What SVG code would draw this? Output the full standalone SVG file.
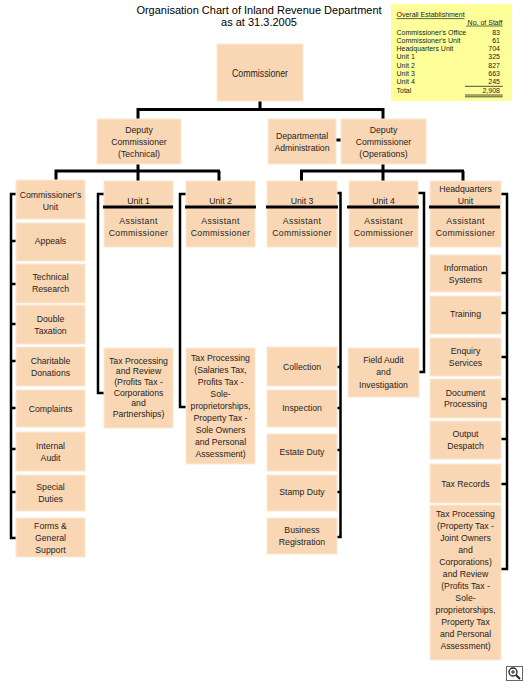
<svg xmlns="http://www.w3.org/2000/svg" width="525" height="682" viewBox="0 0 525 682">
<style>
.b{fill:#FAD7B4;stroke:#FDE7D3;stroke-width:1}
.t{font-family:"Liberation Sans",Arial,sans-serif;font-size:8.7px;fill:#1e1e1e;text-anchor:middle}
.ac{letter-spacing:0.35px}
.c{fill:none;stroke:#000;stroke-width:3;stroke-linecap:butt}
.k{fill:none;stroke:#000;stroke-width:2.5}
.d{stroke:#000;stroke-width:3}
.lg{font-family:"Liberation Sans",Arial,sans-serif;font-size:7px;fill:#222}
.ttl{font-family:"Liberation Sans",Arial,sans-serif;font-size:11px;fill:#000;text-anchor:middle}
</style>
<rect width="525" height="682" fill="#fff"/>
<g id="title">
<text class="ttl" x="259" y="14">Organisation Chart of Inland Revenue Department</text>
<text class="ttl" x="259" y="26">as at 31.3.2005</text>
</g>
<g id="legend">
<rect x="391" y="4" width="121" height="97" fill="#FFFF99"/>
<text class="lg" x="396.5" y="17">Overall Establishment</text>
<line x1="396.5" y1="18.6" x2="464.5" y2="18.6" stroke="#222" stroke-width="0.7"/>
<text class="lg" x="502.5" y="24.5" text-anchor="end">No. of Staff</text>
<line x1="466" y1="26" x2="502.7" y2="26" stroke="#222" stroke-width="0.7"/>
<g class="lg">
<text x="396.5" y="34.5">Commissioner's Office</text><text x="500" y="34.5" text-anchor="end">83</text>
<text x="396.5" y="42.8">Commissioner's Unit</text><text x="500" y="42.8" text-anchor="end">61</text>
<text x="396.5" y="51.1">Headquarters Unit</text><text x="500" y="51.1" text-anchor="end">704</text>
<text x="396.5" y="59.4">Unit 1</text><text x="500" y="59.4" text-anchor="end">325</text>
<text x="396.5" y="67.7">Unit 2</text><text x="500" y="67.7" text-anchor="end">827</text>
<text x="396.5" y="76">Unit 3</text><text x="500" y="76" text-anchor="end">663</text>
<text x="396.5" y="84.3">Unit 4</text><text x="500" y="84.3" text-anchor="end">245</text>
<text x="396.5" y="92.6">Total</text><text x="500" y="92.6" text-anchor="end">2,908</text>
</g>
<line x1="465" y1="86.3" x2="502.7" y2="86.3" stroke="#222" stroke-width="0.8"/>
<line x1="465" y1="95" x2="502.7" y2="95" stroke="#222" stroke-width="0.8"/>
<line x1="465" y1="96.8" x2="502.7" y2="96.8" stroke="#222" stroke-width="0.8"/>
</g>
<g id="connectors">
<path class="c" d="M260,101V109.5M138,119V109.5H383V119"/>
<path class="c" d="M336,140H341"/>
<path class="c" d="M138,164V171M56,180V171H220M138,171V181M219,171V181"/>
<path class="c" d="M383,164V171M301.5,181V171H464M383,171V181M463,171V181"/>
<path class="k" d="M16,194H11V538H16M11,241H16M11,284H16M11,324H16M11,361H16M11,408H16M11,449H16M11,492H16"/>
<path class="k" d="M104,194H98V393H104"/>
<path class="k" d="M186,194H180V407H186"/>
<path class="k" d="M337,193H340.5V537H337M340.5,367H337M340.5,408H337M340.5,450H337M340.5,492H337"/>
<path class="k" d="M418,193H424V372H419"/>
<path class="k" d="M501,194H507V569H501M507,273H501M507,313H501M507,357H501M507,399H501M507,439H501M507,484H501"/>
</g>
<g id="commissioner"><rect class="b" x="217" y="44" width="86" height="57"/><text class="t" x="260" y="76.5" style="font-size:11px" textLength="56" lengthAdjust="spacingAndGlyphs">Commissioner</text></g>
<g id="dc-technical"><rect class="b" x="97" y="119" width="84" height="45"/><text class="t" x="139" y="132.5">Deputy</text><text class="t" x="139" y="144.5">Commissioner</text><text class="t" x="139" y="156.5">(Technical)</text></g>
<g id="departmental-admin"><rect class="b" x="268" y="119" width="68" height="45"/><text class="t" x="302" y="139">Departmental</text><text class="t" x="302" y="151">Administration</text></g>
<g id="dc-operations"><rect class="b" x="341" y="119" width="85" height="45"/><text class="t" x="383.5" y="132.5">Deputy</text><text class="t" x="383.5" y="144.5">Commissioner</text><text class="t" x="383.5" y="156.5">(Operations)</text></g>
<g id="commissioners-unit"><rect class="b" x="16" y="180" width="69" height="39"/><text class="t" x="50.5" y="198">Commissioner's</text><text class="t" x="50.5" y="209.5">Unit</text></g>
<g id="appeals"><rect class="b" x="16" y="223" width="69" height="38"/><text class="t" x="50.5" y="244">Appeals</text></g>
<g id="technical-research"><rect class="b" x="16" y="264" width="69" height="39"/><text class="t" x="50.5" y="280">Technical</text><text class="t" x="50.5" y="292">Research</text></g>
<g id="double-taxation"><rect class="b" x="16" y="305" width="69" height="39"/><text class="t" x="50.5" y="322">Double</text><text class="t" x="50.5" y="334">Taxation</text></g>
<g id="charitable-donations"><rect class="b" x="16" y="347" width="69" height="39"/><text class="t" x="50.5" y="364">Charitable</text><text class="t" x="50.5" y="376">Donations</text></g>
<g id="complaints"><rect class="b" x="16" y="390" width="69" height="37"/><text class="t" x="50.5" y="411.5">Complaints</text></g>
<g id="internal-audit"><rect class="b" x="16" y="432" width="69" height="39"/><text class="t" x="50.5" y="448.5">Internal</text><text class="t" x="50.5" y="460.5">Audit</text></g>
<g id="special-duties"><rect class="b" x="16" y="475" width="69" height="36"/><text class="t" x="50.5" y="490">Special</text><text class="t" x="50.5" y="502">Duties</text></g>
<g id="forms-general-support"><rect class="b" x="16" y="518" width="69" height="39"/><text class="t" x="50.5" y="528.5">Forms &amp;</text><text class="t" x="50.5" y="540.5">General</text><text class="t" x="50.5" y="552.5">Support</text></g>
<g id="unit1"><rect class="b" x="104" y="181" width="69" height="66"/><line class="d" x1="103" y1="207" x2="173" y2="207"/><text class="t" x="138.5" y="203.5">Unit 1</text><text class="t ac" x="138.5" y="224">Assistant</text><text class="t ac" x="138.5" y="236">Commissioner</text></g>
<g id="unit1-tax-processing"><rect class="b" x="104" y="348" width="69" height="80"/><text class="t" x="138.5" y="363.5">Tax Processing</text><text class="t" x="138.5" y="374.2">and Review</text><text class="t" x="138.5" y="384.9">(Profits Tax -</text><text class="t" x="138.5" y="395.6">Corporations</text><text class="t" x="138.5" y="406.3">and</text><text class="t" x="138.5" y="417">Partnerships)</text></g>
<g id="unit2"><rect class="b" x="186" y="181" width="69" height="66"/><line class="d" x1="185" y1="207" x2="256" y2="207"/><text class="t" x="220.5" y="203.5">Unit 2</text><text class="t ac" x="220.5" y="224">Assistant</text><text class="t ac" x="220.5" y="236">Commissioner</text></g>
<g id="unit2-tax-processing"><rect class="b" x="186" y="348" width="69" height="116"/><text class="t" x="220.5" y="360.5">Tax Processing</text><text class="t" x="220.5" y="372.5">(Salaries Tax,</text><text class="t" x="220.5" y="384.5">Profits Tax -</text><text class="t" x="220.5" y="396.5">Sole-</text><text class="t" x="220.5" y="408.5">proprietorships,</text><text class="t" x="220.5" y="420.5">Property Tax -</text><text class="t" x="220.5" y="432.5">Sole Owners</text><text class="t" x="220.5" y="444.5">and Personal</text><text class="t" x="220.5" y="456.5">Assessment)</text></g>
<g id="unit3"><rect class="b" x="267" y="181" width="70" height="66"/><line class="d" x1="266" y1="207" x2="338" y2="207"/><text class="t" x="302" y="203.5">Unit 3</text><text class="t ac" x="302" y="224">Assistant</text><text class="t ac" x="302" y="236">Commissioner</text></g>
<g id="collection"><rect class="b" x="267" y="347" width="70" height="39"/><text class="t" x="302" y="370">Collection</text></g>
<g id="inspection"><rect class="b" x="267" y="390" width="70" height="37"/><text class="t" x="302" y="411">Inspection</text></g>
<g id="estate-duty"><rect class="b" x="267" y="434" width="70" height="37"/><text class="t" x="302" y="454.5">Estate Duty</text></g>
<g id="stamp-duty"><rect class="b" x="267" y="475" width="70" height="36"/><text class="t" x="302" y="495">Stamp Duty</text></g>
<g id="business-registration"><rect class="b" x="267" y="518" width="70" height="36"/><text class="t" x="302" y="533">Business</text><text class="t" x="302" y="545">Registration</text></g>
<g id="unit4"><rect class="b" x="349" y="181" width="69" height="66"/><line class="d" x1="347" y1="207" x2="419" y2="207"/><text class="t" x="383.5" y="203.5">Unit 4</text><text class="t ac" x="383.5" y="224">Assistant</text><text class="t ac" x="383.5" y="236">Commissioner</text></g>
<g id="field-audit"><rect class="b" x="348" y="348" width="71" height="49"/><text class="t" x="383.5" y="362.5">Field Audit</text><text class="t" x="383.5" y="375">and</text><text class="t" x="383.5" y="387.5">Investigation</text></g>
<g id="hq-unit"><rect class="b" x="430" y="181" width="71" height="66"/><line class="d" x1="429" y1="207" x2="500" y2="207"/><text class="t" x="465.5" y="191.5">Headquarters</text><text class="t" x="465.5" y="203.5">Unit</text><text class="t ac" x="465.5" y="224">Assistant</text><text class="t ac" x="465.5" y="236">Commissioner</text></g>
<g id="information-systems"><rect class="b" x="430" y="255" width="71" height="37"/><text class="t" x="465.5" y="270.5">Information</text><text class="t" x="465.5" y="282.5">Systems</text></g>
<g id="training"><rect class="b" x="430" y="296" width="71" height="38"/><text class="t" x="465.5" y="317">Training</text></g>
<g id="enquiry-services"><rect class="b" x="430" y="338" width="71" height="38"/><text class="t" x="465.5" y="354">Enquiry</text><text class="t" x="465.5" y="366">Services</text></g>
<g id="document-processing"><rect class="b" x="430" y="379" width="71" height="39"/><text class="t" x="465.5" y="395.5">Document</text><text class="t" x="465.5" y="407">Processing</text></g>
<g id="output-despatch"><rect class="b" x="430" y="421" width="71" height="38"/><text class="t" x="465.5" y="437">Output</text><text class="t" x="465.5" y="449">Despatch</text></g>
<g id="tax-records"><rect class="b" x="430" y="464" width="71" height="39"/><text class="t" x="465.5" y="487">Tax Records</text></g>
<g id="hq-tax-processing"><rect class="b" x="430" y="505" width="71" height="155"/>
<text class="t" x="465.5" y="516.5">Tax Processing</text><text class="t" x="465.5" y="528.5">(Property Tax -</text><text class="t" x="465.5" y="540.5">Joint Owners</text><text class="t" x="465.5" y="552.5">and</text><text class="t" x="465.5" y="564.5">Corporations)</text><text class="t" x="465.5" y="576.5">and Review</text><text class="t" x="465.5" y="588.5">(Profits Tax -</text><text class="t" x="465.5" y="600.5">Sole-</text><text class="t" x="465.5" y="612.5">proprietorships,</text><text class="t" x="465.5" y="624.5">Property Tax</text><text class="t" x="465.5" y="636.5">and Personal</text><text class="t" x="465.5" y="648.5">Assessment)</text></g>
<g id="zoom-icon">
<rect x="506.5" y="666.5" width="16" height="14" fill="#fff" stroke="#666" stroke-width="1"/>
<circle cx="513" cy="672" r="4" fill="#fff" stroke="#222" stroke-width="1.3"/>
<path d="M511,672H515M513,670V674" stroke="#222" stroke-width="1"/>
<path d="M516,675L520,679" stroke="#222" stroke-width="2"/>
</g>
</svg>
